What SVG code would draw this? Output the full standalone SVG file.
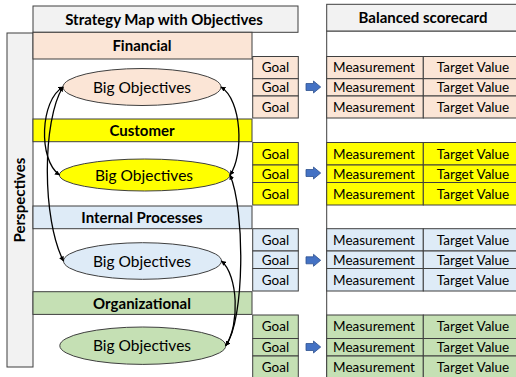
<svg xmlns="http://www.w3.org/2000/svg" width="516" height="377" viewBox="0 0 516 377">
<style>
.bx{stroke:#3f3f3f;stroke-width:1}
.hd{fill:#F2F2F2}
.fin{fill:#FBE5D6}
.cus{fill:#FFFF00}
.ip{fill:#DEEBF7}
.org{fill:#C5E0B4}
text{font-family:Lato,"Liberation Sans",sans-serif;fill:#000;text-anchor:middle}
.t{font-size:13.5px}
.o{font-size:15.5px}
.h{font-size:15px;font-weight:bold}
.con{fill:none;stroke:#000;stroke-width:1.3}
.ba{fill:#4472C4;stroke:#2F528F;stroke-width:0.8}
</style>
<defs>
<marker id="ah" viewBox="0 0 10 10" refX="9" refY="5" markerWidth="5" markerHeight="5" orient="auto-start-reverse" markerUnits="userSpaceOnUse">
<path d="M0,0 L10,5 L0,10 z" fill="#000"/>
</marker>
<marker id="ah2" viewBox="0 0 10 10" refX="9" refY="5" markerWidth="6" markerHeight="6" orient="auto-start-reverse" markerUnits="userSpaceOnUse">
<path d="M0,0 L10,5 L0,10 z" fill="#000"/>
</marker>
</defs>
<rect width="516" height="377" fill="#fff"/>

<g id="perspectives">
<rect class="bx hd" x="7" y="33" width="26" height="334"/>
<text class="h" transform="translate(25,200) rotate(-90)">Perspectives</text>
</g>

<g id="strategy-header">
<rect class="bx hd" x="33" y="6" width="265" height="26.3"/>
<text class="h" x="164" y="24.5">Strategy Map with Objectives</text>
</g>

<g id="scorecard-header">
<rect class="bx" fill="#fff" x="326.7" y="31" width="200" height="360"/>
<rect class="bx hd" x="326.7" y="4.3" width="200" height="26.7"/>
<text class="h" x="423" y="23">Balanced scorecard</text>
</g>

<!-- Bands -->
<g id="band-financial">
<rect class="bx fin" x="33" y="32.3" width="219" height="26.7"/>
<text class="h" x="142" y="51">Financial</text>
</g>
<g id="band-customer">
<rect class="bx cus" x="33" y="119" width="219" height="22.7"/>
<text class="h" x="142" y="135.5">Customer</text>
</g>
<g id="band-internal">
<rect class="bx ip" x="33" y="206" width="219" height="22.7"/>
<text class="h" x="142" y="222.5">Internal Processes</text>
</g>
<g id="band-organizational">
<rect class="bx org" x="33" y="291.7" width="219" height="22.7"/>
<text class="h" x="142" y="308.5">Organizational</text>
</g>

<!-- Objectives -->
<g id="obj-financial">
<ellipse class="bx fin" cx="142" cy="87" rx="79" ry="18.5"/>
<text class="o" x="142" y="92.5">Big Objectives</text>
</g>
<g id="obj-customer">
<ellipse class="bx cus" cx="144.7" cy="175" rx="85.3" ry="16"/>
<text class="o" x="144" y="180.5">Big Objectives</text>
</g>
<g id="obj-internal">
<ellipse class="bx ip" cx="142.5" cy="261" rx="79" ry="18.3"/>
<text class="o" x="142" y="266.5">Big Objectives</text>
</g>
<g id="obj-organizational">
<ellipse class="bx org" cx="142.8" cy="345.7" rx="83" ry="18.7"/>
<text class="o" x="142" y="351">Big Objectives</text>
</g>

<!-- Goals -->
<g id="goals-financial">
<rect class="bx fin" x="252.7" y="56.5" width="45.6" height="22.2"/>
<rect class="bx fin" x="252.7" y="78.7" width="45.6" height="17.3"/>
<rect class="bx fin" x="252.7" y="96" width="45.6" height="22"/>
<text class="t" x="275.5" y="72">Goal</text>
<text class="t" x="275.5" y="92">Goal</text>
<text class="t" x="275.5" y="112">Goal</text>
</g>
<g id="goals-customer">
<rect class="bx cus" x="252.7" y="142.5" width="45.6" height="22.5"/>
<rect class="bx cus" x="252.7" y="165" width="45.6" height="17.5"/>
<rect class="bx cus" x="252.7" y="182.5" width="45.6" height="22.5"/>
<text class="t" x="275.5" y="158.5">Goal</text>
<text class="t" x="275.5" y="178.5">Goal</text>
<text class="t" x="275.5" y="198.5">Goal</text>
</g>
<g id="goals-internal">
<rect class="bx ip" x="252.7" y="228.7" width="45.6" height="22.3"/>
<rect class="bx ip" x="252.7" y="251" width="45.6" height="17.5"/>
<rect class="bx ip" x="252.7" y="268.5" width="45.6" height="22.5"/>
<text class="t" x="275.5" y="244.5">Goal</text>
<text class="t" x="275.5" y="264.5">Goal</text>
<text class="t" x="275.5" y="284.5">Goal</text>
</g>
<g id="goals-organizational">
<rect class="bx org" x="252.7" y="315" width="45.6" height="23.5"/>
<rect class="bx org" x="252.7" y="338.5" width="45.6" height="17.5"/>
<rect class="bx org" x="252.7" y="356" width="45.6" height="22"/>
<text class="t" x="275.5" y="331">Goal</text>
<text class="t" x="275.5" y="351.5">Goal</text>
<text class="t" x="275.5" y="371.5">Goal</text>
</g>

<!-- Scorecard rows -->
<g id="score-financial">
<rect class="bx fin" x="326.7" y="56.5" width="96.6" height="22.2"/>
<rect class="bx fin" x="326.7" y="78.7" width="96.6" height="17.3"/>
<rect class="bx fin" x="326.7" y="96" width="96.6" height="22"/>
<rect class="bx fin" x="423.3" y="56.5" width="100" height="22.2"/>
<rect class="bx fin" x="423.3" y="78.7" width="100" height="17.3"/>
<rect class="bx fin" x="423.3" y="96" width="100" height="22"/>
<text class="t" x="374" y="72">Measurement</text>
<text class="t" x="374" y="92">Measurement</text>
<text class="t" x="374" y="112">Measurement</text>
<text class="t" x="473" y="72">Target Value</text>
<text class="t" x="473" y="92">Target Value</text>
<text class="t" x="473" y="112">Target Value</text>
</g>
<g id="score-customer">
<rect class="bx cus" x="326.7" y="142.5" width="96.6" height="22.5"/>
<rect class="bx cus" x="326.7" y="165" width="96.6" height="17.5"/>
<rect class="bx cus" x="326.7" y="182.5" width="96.6" height="22.5"/>
<rect class="bx cus" x="423.3" y="142.5" width="100" height="22.5"/>
<rect class="bx cus" x="423.3" y="165" width="100" height="17.5"/>
<rect class="bx cus" x="423.3" y="182.5" width="100" height="22.5"/>
<text class="t" x="374" y="158.5">Measurement</text>
<text class="t" x="374" y="178.5">Measurement</text>
<text class="t" x="374" y="198.5">Measurement</text>
<text class="t" x="473" y="158.5">Target Value</text>
<text class="t" x="473" y="178.5">Target Value</text>
<text class="t" x="473" y="198.5">Target Value</text>
</g>
<g id="score-internal">
<rect class="bx ip" x="326.7" y="228.7" width="96.6" height="22.3"/>
<rect class="bx ip" x="326.7" y="251" width="96.6" height="17.5"/>
<rect class="bx ip" x="326.7" y="268.5" width="96.6" height="22.5"/>
<rect class="bx ip" x="423.3" y="228.7" width="100" height="22.3"/>
<rect class="bx ip" x="423.3" y="251" width="100" height="17.5"/>
<rect class="bx ip" x="423.3" y="268.5" width="100" height="22.5"/>
<text class="t" x="374" y="244.5">Measurement</text>
<text class="t" x="374" y="264.5">Measurement</text>
<text class="t" x="374" y="284.5">Measurement</text>
<text class="t" x="473" y="244.5">Target Value</text>
<text class="t" x="473" y="264.5">Target Value</text>
<text class="t" x="473" y="284.5">Target Value</text>
</g>
<g id="score-organizational">
<rect class="bx org" x="326.7" y="315" width="96.6" height="23.5"/>
<rect class="bx org" x="326.7" y="338.5" width="96.6" height="17.5"/>
<rect class="bx org" x="326.7" y="356" width="96.6" height="22"/>
<rect class="bx org" x="423.3" y="315" width="100" height="23.5"/>
<rect class="bx org" x="423.3" y="338.5" width="100" height="17.5"/>
<rect class="bx org" x="423.3" y="356" width="100" height="22"/>
<text class="t" x="374" y="331">Measurement</text>
<text class="t" x="374" y="351.5">Measurement</text>
<text class="t" x="374" y="371.5">Measurement</text>
<text class="t" x="473" y="331">Target Value</text>
<text class="t" x="473" y="351.5">Target Value</text>
<text class="t" x="473" y="371.5">Target Value</text>
</g>

<g id="connectors">
<path class="con" d="M63,87 C40,100 38,160 59.5,175" marker-start="url(#ah)" marker-end="url(#ah)"/>
<path class="con" d="M63,87 C42,120 42,220 63.5,261" marker-start="url(#ah)" marker-end="url(#ah)"/>
<path class="con" d="M221,87 C242,100 244,155 230,175" marker-start="url(#ah)" marker-end="url(#ah)"/>
<path class="con" d="M230,175 C245,210 245,320 225.7,345.7" marker-start="url(#ah)" marker-end="url(#ah)"/>
<path class="con" d="M221.5,261 C238,275 240,325 225.7,345.7" marker-start="url(#ah)" marker-end="url(#ah)"/>
<path class="ba" d="M306,83.5 H313.5 V81 L320.7,87 L313.5,93 V90.5 H306 Z"/>
<path class="ba" d="M306,169.5 H313.5 V167 L320.7,173 L313.5,179 V176.5 H306 Z"/>
<path class="ba" d="M306,256.8 H313.5 V254.3 L320.7,260.3 L313.5,266.3 V263.8 H306 Z"/>
<path class="ba" d="M306,343.5 H313.5 V341 L320.7,347 L313.5,353 V350.5 H306 Z"/>
</g>
</svg>
